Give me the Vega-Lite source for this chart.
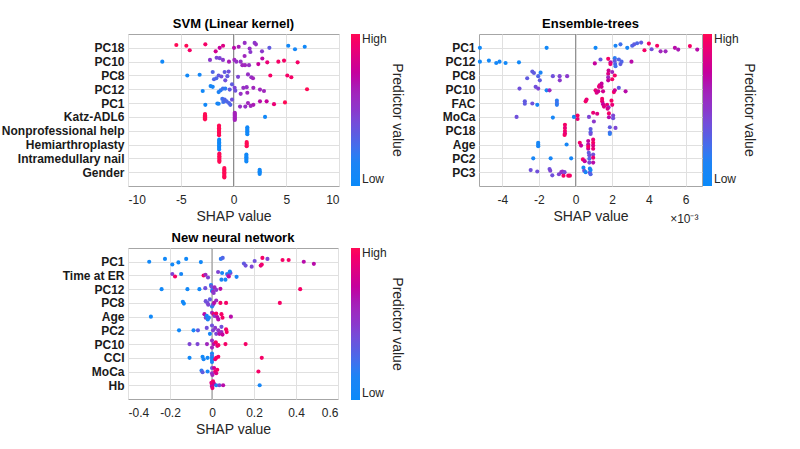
{
"$schema":"https://vega.github.io/schema/vega-lite/v6.json",
"background":"white",
"padding":{"left":0,"top":17,"right":0,"bottom":0},
"datasets":{
"svm":[
{"f":"PC18","s":-5.42,"c":1,"j":-0.4},{"f":"PC18","s":-4.47,"c":1,"j":-0.3},{"f":"PC18","s":-4.15,"c":0.95,"j":0.35},{"f":"PC18","s":-2.67,"c":0.95,"j":-0.5},{"f":"PC18","s":-1.69,"c":0.8,"j":0.5},{"f":"PC18","s":-1.31,"c":0.75,"j":0},{"f":"PC18","s":-0.99,"c":0.85,"j":-0.3},{"f":"PC18","s":0.05,"c":0.7,"j":0},{"f":"PC18","s":0.49,"c":0.65,"j":-0.15},{"f":"PC18","s":1.06,"c":0.55,"j":-0.7},{"f":"PC18","s":1.53,"c":0.55,"j":0.1},{"f":"PC18","s":1.6,"c":0.5,"j":0.6},{"f":"PC18","s":2.0,"c":0.5,"j":-0.7},{"f":"PC18","s":2.13,"c":0.55,"j":-0.5},{"f":"PC18","s":2.7,"c":0.5,"j":0.5},{"f":"PC18","s":3.4,"c":0.35,"j":0},{"f":"PC18","s":5.19,"c":0.05,"j":-0.3},{"f":"PC18","s":5.83,"c":0.08,"j":0.2},{"f":"PC18","s":6.75,"c":0.05,"j":-0.15},
{"f":"PC10","s":-6.75,"c":0.05,"j":0},{"f":"PC10","s":-2.23,"c":0.5,"j":-0.25},{"f":"PC10","s":-1.6,"c":0.45,"j":-0.55},{"f":"PC10","s":-1.31,"c":0.45,"j":-0.5},{"f":"PC10","s":-1.0,"c":0.5,"j":-0.25},{"f":"PC10","s":-0.43,"c":0.65,"j":0},{"f":"PC10","s":0.08,"c":0.6,"j":-0.25},{"f":"PC10","s":0.27,"c":0.55,"j":0},{"f":"PC10","s":0.68,"c":0.55,"j":0},{"f":"PC10","s":0.84,"c":0.6,"j":0.5},{"f":"PC10","s":1.09,"c":0.6,"j":0.5},{"f":"PC10","s":1.05,"c":0.6,"j":-0.8},{"f":"PC10","s":1.47,"c":0.55,"j":0.5},{"f":"PC10","s":2.35,"c":0.75,"j":0.35},{"f":"PC10","s":2.73,"c":0.7,"j":-0.45},{"f":"PC10","s":3.2,"c":0.9,"j":0.1},{"f":"PC10","s":4.25,"c":0.95,"j":0},{"f":"PC10","s":4.79,"c":0.95,"j":-0.15},{"f":"PC10","s":6.08,"c":0.95,"j":0.1},
{"f":"PC8","s":-4.38,"c":0.05,"j":0},{"f":"PC8","s":-3.21,"c":0.08,"j":-0.1},{"f":"PC8","s":-1.97,"c":0.3,"j":-0.5},{"f":"PC8","s":-1.85,"c":0.3,"j":0.55},{"f":"PC8","s":-1.63,"c":0.3,"j":0.4},{"f":"PC8","s":-1.41,"c":0.35,"j":0},{"f":"PC8","s":-1.15,"c":0.4,"j":0.15},{"f":"PC8","s":-0.84,"c":0.35,"j":-0.5},{"f":"PC8","s":-0.78,"c":0.4,"j":0.7},{"f":"PC8","s":-0.58,"c":0.35,"j":0.1},{"f":"PC8","s":-0.46,"c":0.4,"j":-0.55},{"f":"PC8","s":0.43,"c":0.45,"j":0.2},{"f":"PC8","s":1.37,"c":0.55,"j":-0.15},{"f":"PC8","s":1.69,"c":0.55,"j":0.25},{"f":"PC8","s":1.85,"c":0.6,"j":0.4},{"f":"PC8","s":3.49,"c":0.95,"j":0},{"f":"PC8","s":5.1,"c":0.95,"j":0},{"f":"PC8","s":5.48,"c":0.95,"j":0.25},
{"f":"PC12","s":-2.92,"c":0.05,"j":0.25},{"f":"PC12","s":-2.17,"c":0.1,"j":-0.45},{"f":"PC12","s":-1.97,"c":0.1,"j":-0.35},{"f":"PC12","s":-1.41,"c":0.15,"j":0.4},{"f":"PC12","s":-1.22,"c":0.2,"j":0.15},{"f":"PC12","s":-1.0,"c":0.25,"j":-0.1},{"f":"PC12","s":-0.78,"c":0.2,"j":-0.1},{"f":"PC12","s":-0.36,"c":0.35,"j":0.05},{"f":"PC12","s":-0.14,"c":0.35,"j":-0.7},{"f":"PC12","s":0.11,"c":0.45,"j":-0.2},{"f":"PC12","s":0.17,"c":0.4,"j":0.2},{"f":"PC12","s":0.68,"c":0.55,"j":0.65},{"f":"PC12","s":0.93,"c":0.55,"j":-0.2},{"f":"PC12","s":1.25,"c":0.55,"j":-0.3},{"f":"PC12","s":1.31,"c":0.6,"j":0.5},{"f":"PC12","s":1.88,"c":0.6,"j":-0.2},{"f":"PC12","s":2.51,"c":0.6,"j":0.05},{"f":"PC12","s":2.89,"c":0.6,"j":0.25},{"f":"PC12","s":6.97,"c":1,"j":0},
{"f":"PC1","s":-2.67,"c":0.05,"j":0.25},{"f":"PC1","s":-1.53,"c":0.1,"j":0.05},{"f":"PC1","s":-1.41,"c":0.1,"j":0.1},{"f":"PC1","s":-1.06,"c":0.25,"j":-0.6},{"f":"PC1","s":-0.97,"c":0.25,"j":-0.15},{"f":"PC1","s":-0.84,"c":0.3,"j":-0.5},{"f":"PC1","s":-0.65,"c":0.3,"j":-0.25},{"f":"PC1","s":-0.43,"c":0.3,"j":0},{"f":"PC1","s":-0.3,"c":0.3,"j":0.25},{"f":"PC1","s":-0.14,"c":0.4,"j":-0.5},{"f":"PC1","s":0.62,"c":0.55,"j":0.5},{"f":"PC1","s":1.12,"c":0.55,"j":0.5},{"f":"PC1","s":1.37,"c":0.6,"j":0},{"f":"PC1","s":1.63,"c":0.6,"j":0.4},{"f":"PC1","s":1.88,"c":0.65,"j":0.25},{"f":"PC1","s":2.51,"c":0.7,"j":-0.25},{"f":"PC1","s":3.14,"c":0.75,"j":-0.25},{"f":"PC1","s":3.84,"c":0.9,"j":0.15},{"f":"PC1","s":4.88,"c":1,"j":-0.1},
{"f":"Katz-ADL6","s":-2.7,"c":1,"j":-0.4},{"f":"Katz-ADL6","s":-2.7,"c":1,"j":-0.25},{"f":"Katz-ADL6","s":-2.7,"c":1,"j":-0.1},{"f":"Katz-ADL6","s":-2.7,"c":1,"j":0.05},{"f":"Katz-ADL6","s":-2.7,"c":1,"j":0.2},{"f":"Katz-ADL6","s":-2.7,"c":1,"j":0.35},
{"f":"Katz-ADL6","s":0.12,"c":0.62,"j":-0.6},{"f":"Katz-ADL6","s":0.12,"c":0.62,"j":-0.45},{"f":"Katz-ADL6","s":0.12,"c":0.62,"j":-0.3},{"f":"Katz-ADL6","s":0.12,"c":0.62,"j":-0.15},{"f":"Katz-ADL6","s":0.12,"c":0.62,"j":0},{"f":"Katz-ADL6","s":0.12,"c":0.62,"j":0.15},{"f":"Katz-ADL6","s":0.12,"c":0.62,"j":0.3},{"f":"Katz-ADL6","s":0.12,"c":0.62,"j":0.45},{"f":"Katz-ADL6","s":2.99,"c":0.05,"j":0},
{"f":"Nonprofessional help","s":-1.37,"c":1,"j":-0.75},{"f":"Nonprofessional help","s":-1.37,"c":1,"j":-0.55},{"f":"Nonprofessional help","s":-1.37,"c":1,"j":-0.35},{"f":"Nonprofessional help","s":-1.37,"c":1,"j":-0.15},{"f":"Nonprofessional help","s":-1.37,"c":1,"j":0.05},{"f":"Nonprofessional help","s":-1.37,"c":1,"j":0.25},{"f":"Nonprofessional help","s":-1.37,"c":1,"j":0.45},{"f":"Nonprofessional help","s":-1.37,"c":1,"j":0.65},
{"f":"Nonprofessional help","s":1.31,"c":0.05,"j":-0.5},{"f":"Nonprofessional help","s":1.31,"c":0.05,"j":-0.3},{"f":"Nonprofessional help","s":1.31,"c":0.05,"j":-0.1},{"f":"Nonprofessional help","s":1.31,"c":0.05,"j":0.1},{"f":"Nonprofessional help","s":1.31,"c":0.05,"j":0.3},{"f":"Nonprofessional help","s":1.31,"c":0.05,"j":0.5},
{"f":"Hemiarthroplasty","s":-1.36,"c":0.05,"j":-0.7},{"f":"Hemiarthroplasty","s":-1.36,"c":0.05,"j":-0.5},{"f":"Hemiarthroplasty","s":-1.36,"c":0.05,"j":-0.3},{"f":"Hemiarthroplasty","s":-1.36,"c":0.05,"j":-0.1},{"f":"Hemiarthroplasty","s":-1.36,"c":0.05,"j":0.1},{"f":"Hemiarthroplasty","s":-1.36,"c":0.05,"j":0.3},{"f":"Hemiarthroplasty","s":-1.36,"c":0.05,"j":0.5},{"f":"Hemiarthroplasty","s":-1.36,"c":0.05,"j":0.7},
{"f":"Hemiarthroplasty","s":1.25,"c":1,"j":-0.35},{"f":"Hemiarthroplasty","s":1.25,"c":1,"j":-0.15},{"f":"Hemiarthroplasty","s":1.25,"c":1,"j":0.05},{"f":"Hemiarthroplasty","s":1.25,"c":1,"j":0.25},
{"f":"Intramedullary nail","s":-1.34,"c":1,"j":-0.7},{"f":"Intramedullary nail","s":-1.34,"c":1,"j":-0.5},{"f":"Intramedullary nail","s":-1.34,"c":1,"j":-0.3},{"f":"Intramedullary nail","s":-1.34,"c":1,"j":-0.1},{"f":"Intramedullary nail","s":-1.34,"c":1,"j":0.1},{"f":"Intramedullary nail","s":-1.34,"c":1,"j":0.3},{"f":"Intramedullary nail","s":-1.34,"c":1,"j":0.5},
{"f":"Intramedullary nail","s":1.22,"c":0.05,"j":-0.55},{"f":"Intramedullary nail","s":1.22,"c":0.05,"j":-0.35},{"f":"Intramedullary nail","s":1.22,"c":0.05,"j":-0.15},{"f":"Intramedullary nail","s":1.22,"c":0.05,"j":0.05},{"f":"Intramedullary nail","s":1.22,"c":0.05,"j":0.25},{"f":"Intramedullary nail","s":1.22,"c":0.05,"j":0.45},
{"f":"Gender","s":-0.87,"c":1,"j":-0.6},{"f":"Gender","s":-0.87,"c":1,"j":-0.4},{"f":"Gender","s":-0.87,"c":1,"j":-0.2},{"f":"Gender","s":-0.87,"c":1,"j":0},{"f":"Gender","s":-0.87,"c":1,"j":0.2},{"f":"Gender","s":-0.87,"c":1,"j":0.4},{"f":"Gender","s":-0.87,"c":1,"j":0.6},{"f":"Gender","s":-0.87,"c":1,"j":0.75},
{"f":"Gender","s":2.48,"c":0.05,"j":-0.35},{"f":"Gender","s":2.48,"c":0.05,"j":-0.15},{"f":"Gender","s":2.48,"c":0.05,"j":0.05},{"f":"Gender","s":2.48,"c":0.05,"j":0.25}
],
"ens":[
{"f":"PC1","s":-5.22,"c":0.05,"j":0},{"f":"PC1","s":-1.58,"c":0.05,"j":0},{"f":"PC1","s":1.09,"c":0.05,"j":0},{"f":"PC1","s":2.18,"c":0.12,"j":-0.3},{"f":"PC1","s":2.45,"c":0.25,"j":-0.5},{"f":"PC1","s":2.82,"c":0.1,"j":0},{"f":"PC1","s":3.09,"c":0.3,"j":-0.3},{"f":"PC1","s":3.2,"c":0.35,"j":-0.5},{"f":"PC1","s":3.36,"c":0.3,"j":-0.65},{"f":"PC1","s":3.58,"c":0.35,"j":-0.75},{"f":"PC1","s":3.76,"c":0.95,"j":0.35},{"f":"PC1","s":4.0,"c":0.95,"j":-0.6},{"f":"PC1","s":4.15,"c":0.4,"j":0.2},{"f":"PC1","s":4.45,"c":0.95,"j":-0.3},{"f":"PC1","s":4.64,"c":0.6,"j":0.5},{"f":"PC1","s":4.91,"c":0.6,"j":0.5},{"f":"PC1","s":5.42,"c":0.7,"j":0},{"f":"PC1","s":5.6,"c":0.65,"j":0.25},{"f":"PC1","s":6.24,"c":0.95,"j":-0.25},{"f":"PC1","s":6.64,"c":0.7,"j":0.25},
{"f":"PC12","s":-5.22,"c":0.05,"j":0},{"f":"PC12","s":-4.73,"c":0.05,"j":-0.15},{"f":"PC12","s":-4.33,"c":0.08,"j":0.2},{"f":"PC12","s":-4.15,"c":0.08,"j":0},{"f":"PC12","s":-3.82,"c":0.05,"j":0.2},{"f":"PC12","s":-3.09,"c":0.05,"j":0.1},{"f":"PC12","s":1.05,"c":0.75,"j":0.25},{"f":"PC12","s":1.36,"c":0.35,"j":-0.3},{"f":"PC12","s":1.78,"c":0.95,"j":-0.4},{"f":"PC12","s":1.91,"c":0.7,"j":0.1},{"f":"PC12","s":1.9,"c":0.9,"j":0.35},{"f":"PC12","s":2.14,"c":0.2,"j":-0.5},{"f":"PC12","s":2.14,"c":0.35,"j":-0.1},{"f":"PC12","s":2.16,"c":0.3,"j":0.35},{"f":"PC12","s":2.18,"c":0.25,"j":0.65},{"f":"PC12","s":2.36,"c":0.3,"j":-0.3},{"f":"PC12","s":2.45,"c":0.35,"j":0.35},{"f":"PC12","s":2.51,"c":0.3,"j":0},{"f":"PC12","s":3.05,"c":0.7,"j":0},
{"f":"PC8","s":-2.64,"c":0.35,"j":0.4},{"f":"PC8","s":-2.36,"c":0.35,"j":-0.55},{"f":"PC8","s":-2.27,"c":0.35,"j":-0.35},{"f":"PC8","s":-2.04,"c":0.3,"j":0.1},{"f":"PC8","s":-1.91,"c":0.15,"j":-0.4},{"f":"PC8","s":-1.95,"c":0.35,"j":0.7},{"f":"PC8","s":-1.24,"c":0.4,"j":0.1},{"f":"PC8","s":-0.87,"c":0.45,"j":0.1},{"f":"PC8","s":-0.86,"c":0.5,"j":0.7},{"f":"PC8","s":-0.46,"c":0.5,"j":0.1},{"f":"PC8","s":1.78,"c":0.85,"j":-0.25},{"f":"PC8","s":1.78,"c":0.6,"j":0.25},{"f":"PC8","s":1.78,"c":0.75,"j":0.7},{"f":"PC8","s":1.8,"c":0.8,"j":-0.7},{"f":"PC8","s":2.0,"c":0.6,"j":-0.5},{"f":"PC8","s":2.0,"c":0.95,"j":0.55},{"f":"PC8","s":2.14,"c":0.95,"j":0},
{"f":"PC10","s":-3.06,"c":0.4,"j":-0.1},{"f":"PC10","s":-2.18,"c":0.4,"j":-0.35},{"f":"PC10","s":-2.04,"c":0.45,"j":-0.1},{"f":"PC10","s":-1.58,"c":0.1,"j":0.15},{"f":"PC10","s":-1.42,"c":0.6,"j":0.15},{"f":"PC10","s":1.09,"c":0.9,"j":0.15},{"f":"PC10","s":1.15,"c":0.85,"j":0.5},{"f":"PC10","s":1.24,"c":0.8,"j":0.3},{"f":"PC10","s":1.28,"c":0.85,"j":-0.35},{"f":"PC10","s":1.31,"c":0.9,"j":-0.55},{"f":"PC10","s":1.42,"c":0.8,"j":-0.35},{"f":"PC10","s":1.42,"c":0.75,"j":-0.8},{"f":"PC10","s":1.5,"c":0.8,"j":0.3},{"f":"PC10","s":2.09,"c":0.95,"j":0.4},{"f":"PC10","s":2.14,"c":0.8,"j":0.15},{"f":"PC10","s":2.36,"c":0.35,"j":-0.2},{"f":"PC10","s":2.73,"c":0.7,"j":0.3},
{"f":"FAC","s":-2.77,"c":0.35,"j":-0.25},{"f":"FAC","s":-2.77,"c":0.35,"j":0.1},{"f":"FAC","s":-2.36,"c":0.4,"j":0.05},{"f":"FAC","s":-2.09,"c":0.1,"j":0.25},{"f":"FAC","s":-1.02,"c":0.2,"j":-0.35},{"f":"FAC","s":-1.02,"c":0.25,"j":0},{"f":"FAC","s":-1.02,"c":0.2,"j":0.25},{"f":"FAC","s":0.55,"c":0.95,"j":-0.25},{"f":"FAC","s":0.6,"c":0.9,"j":-0.5},{"f":"FAC","s":1.45,"c":0.95,"j":-0.6},{"f":"FAC","s":1.45,"c":0.9,"j":-0.25},{"f":"FAC","s":1.5,"c":0.75,"j":0.15},{"f":"FAC","s":1.55,"c":0.85,"j":0.5},{"f":"FAC","s":1.72,"c":0.9,"j":0.25},{"f":"FAC","s":1.8,"c":0.6,"j":0.6},{"f":"FAC","s":1.96,"c":0.95,"j":-0.35},{"f":"FAC","s":1.75,"c":0.8,"j":0.8},{"f":"FAC","s":2.0,"c":0.9,"j":0.25},
{"f":"MoCa","s":-3.22,"c":0.4,"j":0},{"f":"MoCa","s":-1.24,"c":0.1,"j":0.1},{"f":"MoCa","s":-0.09,"c":0.1,"j":0},{"f":"MoCa","s":0.11,"c":0.95,"j":-0.2},{"f":"MoCa","s":0.11,"c":0.9,"j":0.3},{"f":"MoCa","s":0.73,"c":0.45,"j":0},{"f":"MoCa","s":0.96,"c":0.9,"j":-0.6},{"f":"MoCa","s":1.18,"c":0.85,"j":-0.45},{"f":"MoCa","s":1.0,"c":0.5,"j":0.65},{"f":"MoCa","s":1.82,"c":0.95,"j":-0.5},{"f":"MoCa","s":1.82,"c":0.7,"j":0.05},{"f":"MoCa","s":2.05,"c":0.45,"j":-0.2},{"f":"MoCa","s":2.05,"c":0.4,"j":0.2},
{"f":"PC18","s":-0.58,"c":0.95,"j":-0.85},{"f":"PC18","s":-0.58,"c":0.9,"j":-0.4},{"f":"PC18","s":-0.58,"c":0.95,"j":0.05},{"f":"PC18","s":-0.58,"c":0.85,"j":0.4},{"f":"PC18","s":-0.6,"c":0.95,"j":0.6},{"f":"PC18","s":0.82,"c":0.35,"j":-0.25},{"f":"PC18","s":0.82,"c":0.3,"j":0.2},{"f":"PC18","s":0.82,"c":0.4,"j":0.45},{"f":"PC18","s":1.87,"c":0.35,"j":-0.5},{"f":"PC18","s":1.87,"c":0.3,"j":0.25},{"f":"PC18","s":1.87,"c":0.2,"j":0.45},{"f":"PC18","s":2.18,"c":0.45,"j":-0.4},
{"f":"Age","s":-2.04,"c":0.1,"j":-0.25},{"f":"Age","s":-2.04,"c":0.1,"j":0},{"f":"Age","s":-2.04,"c":0.1,"j":0.25},{"f":"Age","s":-0.49,"c":0.1,"j":0},{"f":"Age","s":0.23,"c":0.95,"j":-0.25},{"f":"Age","s":0.3,"c":0.75,"j":0.15},{"f":"Age","s":0.69,"c":0.75,"j":-0.5},{"f":"Age","s":0.69,"c":0.7,"j":0},{"f":"Age","s":0.69,"c":0.75,"j":0.6},{"f":"Age","s":0.69,"c":0.95,"j":0.3},{"f":"Age","s":0.96,"c":0.9,"j":-0.7},{"f":"Age","s":0.96,"c":0.95,"j":-0.25},{"f":"Age","s":0.96,"c":0.85,"j":0.15},{"f":"Age","s":0.96,"c":0.9,"j":0.6},
{"f":"PC2","s":-2.31,"c":0.1,"j":0},{"f":"PC2","s":-1.36,"c":0.1,"j":0},{"f":"PC2","s":-0.24,"c":0.1,"j":0},{"f":"PC2","s":0.4,"c":0.95,"j":0.15},{"f":"PC2","s":0.5,"c":0.75,"j":0.4},{"f":"PC2","s":0.72,"c":0.35,"j":-0.8},{"f":"PC2","s":0.75,"c":0.4,"j":-0.45},{"f":"PC2","s":0.75,"c":0.3,"j":0.05},{"f":"PC2","s":0.75,"c":0.45,"j":0.6},{"f":"PC2","s":0.96,"c":0.4,"j":-0.55},{"f":"PC2","s":0.96,"c":0.9,"j":-0.1},{"f":"PC2","s":0.96,"c":0.7,"j":0.6},
{"f":"PC3","s":-2.45,"c":0.4,"j":-0.3},{"f":"PC3","s":-2.09,"c":0.4,"j":-0.1},{"f":"PC3","s":-1.42,"c":0.4,"j":-0.45},{"f":"PC3","s":-1.38,"c":0.45,"j":-0.2},{"f":"PC3","s":-1.27,"c":0.4,"j":0.45},{"f":"PC3","s":-0.91,"c":0.45,"j":0.3},{"f":"PC3","s":-0.78,"c":0.5,"j":0},{"f":"PC3","s":-0.72,"c":0.55,"j":-0.1},{"f":"PC3","s":-0.66,"c":0.95,"j":0.5},{"f":"PC3","s":-0.6,"c":0.45,"j":0},{"f":"PC3","s":-0.4,"c":0.95,"j":0.5},{"f":"PC3","s":-0.31,"c":0.95,"j":0.5},{"f":"PC3","s":0.43,"c":0.1,"j":-0.65},{"f":"PC3","s":0.47,"c":0.4,"j":-0.2},{"f":"PC3","s":0.55,"c":0.1,"j":0},{"f":"PC3","s":0.78,"c":0.1,"j":-0.5},{"f":"PC3","s":0.78,"c":0.4,"j":0.05},{"f":"PC3","s":0.82,"c":0.1,"j":-0.3},{"f":"PC3","s":0.82,"c":0.3,"j":0.3}
],
"nn":[
{"f":"PC1","s":-0.299,"c":0.05,"j":0},{"f":"PC1","s":-0.224,"c":0.05,"j":-0.4},{"f":"PC1","s":-0.189,"c":0.05,"j":0.4},{"f":"PC1","s":-0.16,"c":0.05,"j":0.1},{"f":"PC1","s":-0.123,"c":0.05,"j":-0.4},{"f":"PC1","s":-0.053,"c":0.05,"j":0.05},{"f":"PC1","s":0.042,"c":0.2,"j":-0.4},{"f":"PC1","s":0.051,"c":0.3,"j":-0.55},{"f":"PC1","s":0.152,"c":0.35,"j":0.25},{"f":"PC1","s":0.16,"c":0.4,"j":0.55},{"f":"PC1","s":0.189,"c":0.45,"j":0.7},{"f":"PC1","s":0.203,"c":0.4,"j":-0.1},{"f":"PC1","s":0.237,"c":0.95,"j":0.4},{"f":"PC1","s":0.232,"c":0.9,"j":0.55},{"f":"PC1","s":0.24,"c":0.95,"j":-0.55},{"f":"PC1","s":0.264,"c":0.45,"j":-0.4},{"f":"PC1","s":0.336,"c":0.95,"j":-0.25},{"f":"PC1","s":0.365,"c":0.95,"j":-0.25},{"f":"PC1","s":0.437,"c":0.7,"j":0},{"f":"PC1","s":0.485,"c":0.7,"j":0.3},
{"f":"Time at ER","s":-0.189,"c":0.45,"j":-0.2},{"f":"Time at ER","s":-0.176,"c":0.95,"j":0.15},{"f":"Time at ER","s":-0.147,"c":0.1,"j":-0.2},{"f":"Time at ER","s":-0.04,"c":0.95,"j":0},{"f":"Time at ER","s":-0.031,"c":0.6,"j":-0.1},{"f":"Time at ER","s":-0.019,"c":0.45,"j":0.3},{"f":"Time at ER","s":0.029,"c":0.45,"j":-0.5},{"f":"Time at ER","s":0.045,"c":0.1,"j":0.6},{"f":"Time at ER","s":0.048,"c":0.1,"j":-0.35},{"f":"Time at ER","s":0.064,"c":0.1,"j":0.6},{"f":"Time at ER","s":0.072,"c":0.1,"j":-0.2},{"f":"Time at ER","s":0.077,"c":0.5,"j":0},{"f":"Time at ER","s":0.088,"c":0.45,"j":-0.35},{"f":"Time at ER","s":0.08,"c":0.7,"j":0.15},{"f":"Time at ER","s":0.085,"c":0.1,"j":-0.55},{"f":"Time at ER","s":0.117,"c":0.1,"j":0.2},
{"f":"PC12","s":-0.24,"c":0.05,"j":0},{"f":"PC12","s":-0.117,"c":0.05,"j":0},{"f":"PC12","s":-0.06,"c":0.05,"j":0},{"f":"PC12","s":-0.032,"c":0.4,"j":-0.15},{"f":"PC12","s":-0.005,"c":0.15,"j":-0.6},{"f":"PC12","s":-0.003,"c":0.4,"j":-0.4},{"f":"PC12","s":0.003,"c":0.3,"j":-0.05},{"f":"PC12","s":0.0,"c":0.1,"j":0.25},{"f":"PC12","s":0.005,"c":0.6,"j":0.35},{"f":"PC12","s":0.008,"c":0.5,"j":0.55},{"f":"PC12","s":0.012,"c":0.6,"j":-0.25},{"f":"PC12","s":0.02,"c":0.5,"j":0.1},{"f":"PC12","s":0.04,"c":0.7,"j":-0.05},{"f":"PC12","s":0.42,"c":0.95,"j":0},
{"f":"PC8","s":-0.139,"c":0.05,"j":-0.15},{"f":"PC8","s":-0.134,"c":0.05,"j":0.1},{"f":"PC8","s":-0.03,"c":0.4,"j":-0.25},{"f":"PC8","s":-0.022,"c":0.4,"j":0},{"f":"PC8","s":-0.018,"c":0.45,"j":0.25},{"f":"PC8","s":-0.01,"c":0.35,"j":-0.5},{"f":"PC8","s":0.0,"c":0.15,"j":0.5},{"f":"PC8","s":0.005,"c":0.4,"j":0.25},{"f":"PC8","s":0.01,"c":0.7,"j":0},{"f":"PC8","s":0.02,"c":0.6,"j":-0.35},{"f":"PC8","s":0.04,"c":0.95,"j":0},{"f":"PC8","s":0.067,"c":0.95,"j":0},{"f":"PC8","s":0.323,"c":0.95,"j":0},
{"f":"Age","s":-0.291,"c":0.05,"j":0},{"f":"Age","s":-0.036,"c":0.7,"j":-0.35},{"f":"Age","s":-0.03,"c":0.45,"j":0.15},{"f":"Age","s":-0.025,"c":0.1,"j":-0.1},{"f":"Age","s":-0.02,"c":0.1,"j":0.4},{"f":"Age","s":-0.015,"c":0.15,"j":0.15},{"f":"Age","s":0.0,"c":0.6,"j":-0.55},{"f":"Age","s":0.008,"c":0.9,"j":-0.35},{"f":"Age","s":0.012,"c":0.5,"j":-0.1},{"f":"Age","s":0.02,"c":0.95,"j":-0.45},{"f":"Age","s":0.025,"c":0.7,"j":0.05},{"f":"Age","s":0.03,"c":0.7,"j":0.4},{"f":"Age","s":0.045,"c":0.95,"j":-0.35},{"f":"Age","s":0.05,"c":0.95,"j":0.15},{"f":"Age","s":0.09,"c":0.7,"j":0},
{"f":"PC2","s":-0.157,"c":0.05,"j":0},{"f":"PC2","s":-0.088,"c":0.1,"j":0},{"f":"PC2","s":-0.067,"c":0.35,"j":0},{"f":"PC2","s":-0.025,"c":0.4,"j":-0.35},{"f":"PC2","s":-0.01,"c":0.1,"j":0.5},{"f":"PC2","s":0.0,"c":0.4,"j":-0.7},{"f":"PC2","s":0.005,"c":0.45,"j":0},{"f":"PC2","s":0.015,"c":0.5,"j":-0.35},{"f":"PC2","s":0.02,"c":0.45,"j":0.5},{"f":"PC2","s":0.03,"c":0.55,"j":0},{"f":"PC2","s":0.035,"c":0.7,"j":0.5},{"f":"PC2","s":0.045,"c":0.6,"j":0.25},{"f":"PC2","s":0.05,"c":0.75,"j":0.6},{"f":"PC2","s":0.045,"c":0.4,"j":-0.5},{"f":"PC2","s":0.067,"c":0.95,"j":-0.15},{"f":"PC2","s":0.07,"c":0.95,"j":0.25},
{"f":"PC10","s":-0.107,"c":0.45,"j":0},{"f":"PC10","s":-0.069,"c":0.45,"j":0},{"f":"PC10","s":-0.024,"c":0.6,"j":0},{"f":"PC10","s":0.0,"c":0.55,"j":-0.5},{"f":"PC10","s":0.0,"c":0.6,"j":0.5},{"f":"PC10","s":0.008,"c":0.7,"j":0},{"f":"PC10","s":0.018,"c":0.95,"j":-0.25},{"f":"PC10","s":0.025,"c":0.85,"j":0.25},{"f":"PC10","s":0.03,"c":0.95,"j":0.15},{"f":"PC10","s":0.064,"c":0.95,"j":0},{"f":"PC10","s":0.16,"c":0.95,"j":0},
{"f":"CCI","s":-0.107,"c":0.05,"j":0},{"f":"CCI","s":-0.045,"c":0.05,"j":-0.15},{"f":"CCI","s":-0.04,"c":0.1,"j":0.2},{"f":"CCI","s":-0.021,"c":0.05,"j":0},{"f":"CCI","s":0.0,"c":0.1,"j":-0.6},{"f":"CCI","s":0.0,"c":0.25,"j":-0.3},{"f":"CCI","s":0.0,"c":0.1,"j":0},{"f":"CCI","s":0.0,"c":0.15,"j":0.3},{"f":"CCI","s":0.0,"c":0.1,"j":0.6},{"f":"CCI","s":0.015,"c":0.9,"j":0.2},{"f":"CCI","s":0.02,"c":0.95,"j":0},{"f":"CCI","s":0.03,"c":0.95,"j":-0.15},{"f":"CCI","s":0.237,"c":0.95,"j":0},
{"f":"MoCa","s":-0.05,"c":0.2,"j":-0.15},{"f":"MoCa","s":-0.045,"c":0.35,"j":0.1},{"f":"MoCa","s":-0.021,"c":0.1,"j":0},{"f":"MoCa","s":0.0,"c":0.4,"j":-0.5},{"f":"MoCa","s":0.0,"c":0.5,"j":0.25},{"f":"MoCa","s":0.002,"c":0.6,"j":0.5},{"f":"MoCa","s":0.01,"c":0.8,"j":-0.5},{"f":"MoCa","s":0.015,"c":0.9,"j":0},{"f":"MoCa","s":0.02,"c":0.85,"j":0.25},{"f":"MoCa","s":0.025,"c":0.95,"j":-0.25},{"f":"MoCa","s":0.221,"c":0.95,"j":0},
{"f":"Hb","s":-0.003,"c":0.85,"j":-0.35},{"f":"Hb","s":0.0,"c":0.95,"j":-0.1},{"f":"Hb","s":0.0,"c":0.7,"j":0.15},{"f":"Hb","s":0.002,"c":0.9,"j":0.4},{"f":"Hb","s":0.005,"c":0.95,"j":-0.55},{"f":"Hb","s":0.01,"c":0.8,"j":-0.2},{"f":"Hb","s":0.02,"c":0.1,"j":0},{"f":"Hb","s":0.035,"c":0.45,"j":0},{"f":"Hb","s":0.053,"c":0.7,"j":0},{"f":"Hb","s":0.227,"c":0.1,"j":0}
]
},
"columns":2,
"spacing":{"row":62,"column":140},
"bounds":"flush",
"resolve":{"scale":{"color":"independent"}},
"concat":[
{
"width":211,"height":152,
"title":"SVM (Linear kernel)",
"layer":[
{"data":{"values":[{}]},"mark":{"type":"rule","color":"#8c8c8c","strokeWidth":1},"encoding":{"x":{"datum":0,"type":"quantitative","title":"SHAP value"}}},
{"data":{"name":"svm"},"mark":{"type":"circle","size":17,"opacity":1},
"encoding":{
"x":{"field":"s","type":"quantitative","title":"SHAP value","scale":{"domain":[-10,10],"nice":false},"axis":{"values":[-10,-5,0,5,10],"labelExpr":"datum.value + ''","grid":true}},
"y":{"field":"f","type":"nominal","title":null,"sort":["PC18","PC10","PC8","PC12","PC1","Katz-ADL6","Nonprofessional help","Hemiarthroplasty","Intramedullary nail","Gender"],"scale":{"type":"point","padding":1},"axis":{"grid":true}},
"yOffset":{"field":"j","type":"quantitative","scale":{"domain":[-1,1],"range":[-7,7]}},
"color":{"field":"c","type":"quantitative","scale":{"domain":[0,0.167,0.333,0.5,0.667,0.833,1],"range":["#0a8af9","#1d83f4","#5a5de2","#8b38cc","#ac16b2","#d80a86","#ff0a55"]},"legend":{"title":"Predictor value","values":[0,1],"labelExpr":"datum.value >= 1 ? 'High' : 'Low'","offset":12,"encode":{"labels":{"baseline":{"value":"middle"}}}}}
}}
]
},
{
"width":223,"height":152,
"title":"Ensemble-trees",
"resolve":{"axis":{"x":"independent"}},
"layer":[
{"data":{"values":[{}]},"mark":{"type":"rule","color":"#8c8c8c","strokeWidth":1},"encoding":{"x":{"datum":0,"type":"quantitative","axis":{"orient":"bottom","title":"×10⁻³","labels":false,"grid":false,"ticks":false,"domain":false,"titleAnchor":"end","titleFontSize":12,"titlePadding":27,"titleX":219}}}},
{"data":{"name":"ens"},"mark":{"type":"circle","size":17,"opacity":1},
"encoding":{
"x":{"field":"s","type":"quantitative","title":"SHAP value","scale":{"domain":[-5.27,6.9],"nice":false,"zero":false},"axis":{"orient":"bottom","values":[-4,-2,0,2,4,6],"labelExpr":"datum.value + ''","grid":true}},
"y":{"field":"f","type":"nominal","title":null,"sort":["PC1","PC12","PC8","PC10","FAC","MoCa","PC18","Age","PC2","PC3"],"scale":{"type":"point","padding":1},"axis":{"grid":true}},
"yOffset":{"field":"j","type":"quantitative","scale":{"domain":[-1,1],"range":[-7,7]}},
"color":{"field":"c","type":"quantitative","scale":{"domain":[0,0.167,0.333,0.5,0.667,0.833,1],"range":["#0a8af9","#1d83f4","#5a5de2","#8b38cc","#ac16b2","#d80a86","#ff0a55"]},"legend":{"title":"Predictor value","values":[0,1],"labelExpr":"datum.value >= 1 ? 'High' : 'Low'","offset":1,"encode":{"labels":{"baseline":{"value":"middle"}}}}}
}}
]
},
{
"width":210,"height":151,
"title":"New neural network",
"layer":[
{"data":{"values":[{}]},"mark":{"type":"rule","color":"#8c8c8c","strokeWidth":1},"encoding":{"x":{"datum":0,"type":"quantitative","title":"SHAP value"}}},
{"data":{"name":"nn"},"mark":{"type":"circle","size":17,"opacity":1},
"encoding":{
"x":{"field":"s","type":"quantitative","title":"SHAP value","scale":{"domain":[-0.4,0.6],"nice":false},"axis":{"values":[-0.4,-0.2,0,0.2,0.4,0.6],"labelExpr":"datum.value + ''","grid":true}},
"y":{"field":"f","type":"nominal","title":null,"sort":["PC1","Time at ER","PC12","PC8","Age","PC2","PC10","CCI","MoCa","Hb"],"scale":{"type":"point","padding":1},"axis":{"grid":true}},
"yOffset":{"field":"j","type":"quantitative","scale":{"domain":[-1,1],"range":[-7,7]}},
"color":{"field":"c","type":"quantitative","scale":{"domain":[0,0.167,0.333,0.5,0.667,0.833,1],"range":["#0a8af9","#1d83f4","#5a5de2","#8b38cc","#ac16b2","#d80a86","#ff0a55"]},"legend":{"title":"Predictor value","values":[0,1],"labelExpr":"datum.value >= 1 ? 'High' : 'Low'","offset":13,"encode":{"labels":{"baseline":{"value":"middle"}}}}}
}}
]
}
],
"config":{
"font":"Liberation Sans",
"view":{"stroke":"#a6a6a6","strokeWidth":1},
"title":{"fontSize":13,"fontWeight":"bold","font":"Liberation Sans","color":"#000000","offset":3},
"axis":{"labelFont":"Liberation Sans","titleFont":"Liberation Sans","labelColor":"#262626","titleColor":"#262626","gridColor":"#e0e0e0","domain":false,"ticks":false,"tickSize":0},
"axisX":{"labelFontSize":12,"titleFontSize":14,"titleFontWeight":"normal","labelPadding":8,"titlePadding":4},
"axisY":{"labelFontSize":12,"labelFontWeight":"bold","labelColor":"#1a1a1a","labelPadding":4},
"legend":{"gradientLength":152,"gradientThickness":9,"gradientStrokeWidth":0,"titleOrient":"right","titleAnchor":"middle","titleFontSize":14,"titleFontWeight":"normal","titleFont":"Liberation Sans","labelFont":"Liberation Sans","labelFontSize":12,"titleColor":"#262626","labelColor":"#262626","labelOffset":3,"titlePadding":3}
}
}
